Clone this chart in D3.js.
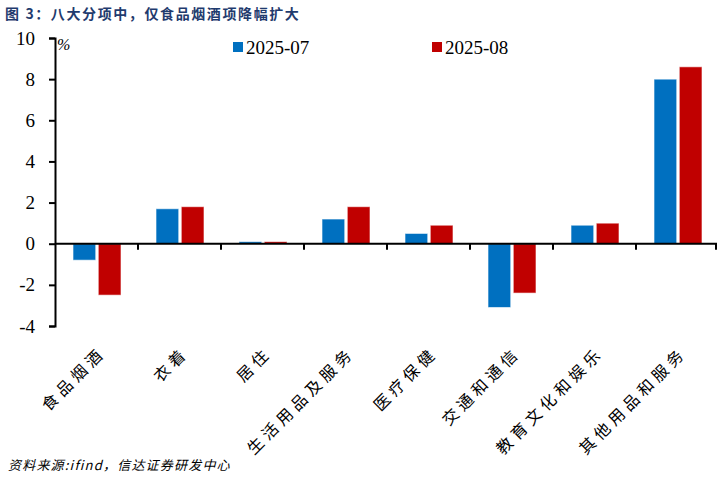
<!DOCTYPE html>
<html>
<head>
<meta charset="utf-8">
<script src="https://d3js.org/d3.v7.min.js"></script>
<style>
body { margin: 0; background: #fff; }
</style>
</head>
<body>
<div id="graphic"></div>
<script>
var categories = ["食品烟酒", "衣着", "居住", "生活用品及服务", "医疗保健", "交通和通信", "教育文化和娱乐", "其他用品和服务"];
var jul = [-0.8, 1.7, 0.1, 1.2, 0.5, -3.1, 0.9, 8.0];
var aug = [-2.5, 1.8, 0.1, 1.8, 0.9, -2.4, 1.0, 8.6];
var seriesNames = ["2025-07", "2025-08"];
var yTicks = [-4, -2, 0, 2, 4, 6, 8, 10];

var colors = ["#0070C0", "#C00000"];
var serif = "'Liberation Serif', 'Times New Roman', serif";
var cjk = "'Noto Sans CJK SC', sans-serif";

var width = 723, height = 482;
var svg = d3.select("#graphic").append("svg").attr("width", width).attr("height", height);

// title
svg.append("text").attr("x", 5).attr("y", 19)
  .attr("font-family", cjk).attr("font-weight", "bold").attr("font-size", 14)
  .attr("letter-spacing", 1.6).attr("fill", "#1F3B6E")
  .text("图 3：八大分项中，仅食品烟酒项降幅扩大");

var x = d3.scaleBand().domain(categories).range([55, 719]);
var y = d3.scaleLinear().domain([-4, 10]).range([326, 38]);
var xs = d3.scaleBand().domain([0, 1]).range([18, x.bandwidth() - 17]).paddingInner(0.1);

var data = [];
categories.forEach(function(c, i) {
  data.push({cat: c, s: 0, v: jul[i]});
  data.push({cat: c, s: 1, v: aug[i]});
});

svg.append("g").selectAll("rect").data(data).enter().append("rect")
  .attr("x", function(d) { return x(d.cat) + xs(d.s); })
  .attr("width", xs.bandwidth())
  .attr("y", function(d) { return y(Math.max(0, d.v)); })
  .attr("height", function(d) { return Math.abs(y(d.v) - y(0)); })
  .attr("fill", function(d) { return colors[d.s]; })
  .attr("stroke", "#fff").attr("stroke-opacity", 0.6).attr("stroke-width", 1);

// y axis
var yAxis = svg.append("g").attr("transform", "translate(55,0)")
  .call(d3.axisLeft(y).tickValues(yTicks).tickSize(6).tickPadding(14).tickFormat(String));
yAxis.select(".domain").attr("stroke", "#000").attr("stroke-width", 2);
yAxis.selectAll(".tick line").attr("stroke", "#000").attr("stroke-width", 2);
yAxis.selectAll("text").attr("font-family", serif).attr("font-size", 19).attr("fill", "#000");

// x axis at zero
var xAxis = svg.append("g").attr("transform", "translate(0," + y(0) + ")");
xAxis.append("line").attr("x1", 55).attr("x2", 717).attr("stroke", "#000").attr("stroke-width", 2);
xAxis.selectAll("line.tk").data(categories.slice(1).concat([null])).enter().append("line")
  .attr("class", "tk")
  .attr("x1", function(d, i) { return d ? x(d) : 716; })
  .attr("x2", function(d, i) { return d ? x(d) : 716; })
  .attr("y1", 0).attr("y2", 6).attr("stroke", "#000").attr("stroke-width", 2);

// category labels
svg.append("g").selectAll("text").data(categories).enter().append("text")
  .attr("transform", function(d) {
    return "translate(" + (x(d) + x.bandwidth() / 2 + 10) + ",354) rotate(-45)";
  })
  .attr("text-anchor", "end")
  .attr("font-family", cjk).attr("font-size", 16).attr("letter-spacing", 4.5)
  .attr("fill", "#000")
  .text(function(d) { return d; });

// unit
svg.append("text").attr("x", 57).attr("y", 50)
  .attr("font-family", serif).attr("font-style", "italic").attr("font-size", 16)
  .text("%");

// legend
var legX = [233, 432];
seriesNames.forEach(function(n, i) {
  svg.append("rect").attr("x", legX[i]).attr("y", 42).attr("width", 10).attr("height", 10)
    .attr("fill", colors[i]);
  svg.append("text").attr("x", legX[i] + 13).attr("y", 54)
    .attr("font-family", serif).attr("font-size", 19).text(n);
});

// source
svg.append("text").attr("x", 8).attr("y", 470)
  .attr("font-family", cjk).attr("font-style", "italic").attr("font-size", 13)
  .attr("letter-spacing", 1.2)
  .text("资料来源:ifind，信达证券研发中心");
</script>
</body>
</html>
